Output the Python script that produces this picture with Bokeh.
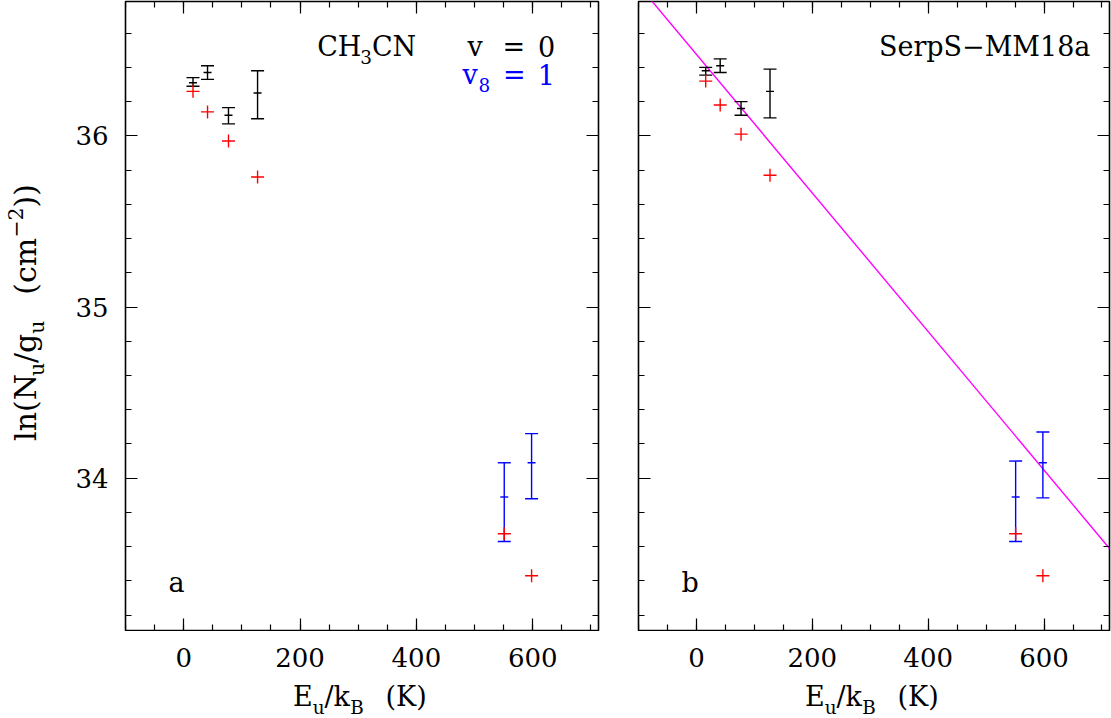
import math
from bokeh.plotting import figure
from bokeh.layouts import row, column
from bokeh.models import Range1d, LinearAxis, Label, FixedTicker, Spacer
from bokeh.embed import file_html
from bokeh.resources import INLINE

# ---------------- data ----------------
eu_v0 = [16, 41, 77, 127]          # E_u/k_B (K) of the v = 0 lines
eu_v8 = [551, 598]                 # E_u/k_B (K) of the v8 = 1 lines

# panel a
a_v0 = [36.31, 36.37, 36.12, 36.25]
a_v0_lo = [36.29, 36.33, 36.07, 36.10]
a_v0_hi = [36.34, 36.41, 36.165, 36.38]
a_v8 = [33.89, 34.09]
a_v8_lo = [33.63, 33.88]
a_v8_hi = [34.09, 34.26]
a_red = [36.26, 36.14, 35.97, 35.76, 33.675, 33.43]

# panel b
b_v0 = [36.38, 36.41, 36.16, 36.26]
b_v0_lo = [36.355, 36.37, 36.12, 36.105]
b_v0_hi = [36.40, 36.45, 36.20, 36.39]
b_v8 = [33.89, 34.09]
b_v8_lo = [33.63, 33.885]
b_v8_hi = [34.10, 34.27]
b_red = [36.32, 36.18, 36.01, 35.77, 33.675, 33.43]

# rotational-diagram fit shown in panel b
fit_trot = 247.0
fit_intercept = 36.476

x_major = [0, 200, 400, 600]
y_major = [34, 35, 36]

# ---------------- layout constants ----------------
X0, X1 = -100.0, 713.0
Y0, Y1 = 33.11, 36.785
FONT = "DejaVu Serif"
REF_TOP, REF_BOT = 1.0, 630.0
REF_X = {"a": (125.0, 598.0), "b": (638.0, 1109.0)}
ROW_H = 631          # height of the panel row (page px)
YLAB_W = 60          # width of the strip holding the y-axis title
BASE_FIX = 0.28      # em, baseline correction of the svg text
PANELS = {"a": dict(left=125 - YLAB_W, right=20, fw=473),
          "b": dict(left=20, right=2, fw=471)}

EM = {" ": .318, "(": .390, ")": .390, "/": .337, "=": .838, "\u2212": .838,
      "0": .636, "1": .636, "2": .636, "3": .636, "8": .636,
      "B": .731, "C": .728, "E": .729, "H": .865, "K": .757, "M": .988,
      "N": .812, "S": .685,
      "a": .596, "b": .640, "c": .562, "e": .592, "g": .640, "k": .617,
      "l": .320, "m": .952, "n": .640, "p": .640, "r": .478, "u": .640,
      "v": .590}


def tw(s, size):
    return sum(EM.get(c, 0.62) for c in s) * size


def to_dx(panel, px):
    l, r = REF_X[panel]
    return X0 + (px - l) / (r - l) * (X1 - X0)


def to_data(panel, px, py):
    y = Y1 - (py - REF_TOP) / (REF_BOT - REF_TOP) * (Y1 - Y0)
    return to_dx(panel, px), y


def rich(p, x, y, segs, size, color="black", align="left", angle=0.0):
    """segs: (text, kind) with kind n / sub / sup, or (px, 'gap')."""
    scale = 0.68
    items = []
    for t, k in segs:
        if k == "gap":
            items.append((None, k, 0, float(t)))
        else:
            s = size * (scale if k != "n" else 1.0)
            items.append((t, k, s, tw(t, s)))
    total = sum(w for *_, w in items)
    adv = {"left": 0.0, "center": -total / 2, "right": -total}[align]
    for t, k, s, w in items:
        if t is not None:
            shift = {"n": 0.0, "sub": -0.30 * size, "sup": 0.42 * size}[k] + BASE_FIX * s
            if angle == 0.0:
                xo, yo = adv, shift
            else:
                xo, yo = -shift, adv
            p.add_layout(Label(x=x, y=y, x_offset=xo, y_offset=yo, text=t,
                               text_font=FONT, text_font_size=f"{s:.1f}px",
                               text_color=color, angle=angle,
                               text_align="left", text_baseline="alphabetic"))
        adv += w


def style(ax, labels, ticks=True):
    ax.axis_line_color = None
    ax.major_tick_in = 12 if ticks else 0
    ax.major_tick_out = 0
    ax.minor_tick_in = 6 if ticks else 0
    ax.minor_tick_out = 0
    ax.major_tick_line_color = "black" if ticks else None
    ax.minor_tick_line_color = "black" if ticks else None
    ax.major_tick_line_width = 1.2
    ax.minor_tick_line_width = 1.2
    if labels:
        ax.major_label_text_font = FONT
        ax.major_label_text_font_size = "26px"
        ax.major_label_text_color = "black"
        ax.major_label_standoff = 17
    else:
        ax.major_label_text_color = None


X_TICKER = dict(ticks=x_major, minor_ticks=list(range(-100, 701, 50)))
Y_TICKER = dict(ticks=y_major, minor_ticks=[round(33.2 + 0.2 * i, 1) for i in range(18)])


def make_panel(name, show_ylabels):
    g = PANELS[name]
    p = figure(x_range=Range1d(X0, X1), y_range=Range1d(Y0, Y1),
               frame_width=g["fw"], frame_height=629,
               min_border_left=g["left"], min_border_right=g["right"],
               min_border_top=1, min_border_bottom=ROW_H - 630,
               output_backend="svg", toolbar_location=None,
               background_fill_color="white", border_fill_color="white")
    p.xgrid.visible = False
    p.ygrid.visible = False
    p.outline_line_color = "black"
    p.outline_line_width = 1.6
    xt = FixedTicker(**X_TICKER)
    yt = FixedTicker(**Y_TICKER)
    p.xaxis.ticker = xt
    p.yaxis.ticker = yt
    for ax in p.xaxis:
        style(ax, False)
        ax.fixed_location = Y0
    for ax in p.yaxis:
        style(ax, show_ylabels)
        if not show_ylabels:
            ax.fixed_location = X0
    top = LinearAxis(ticker=xt, fixed_location=Y1)
    right = LinearAxis(ticker=yt, fixed_location=X1)
    style(top, False)
    style(right, False)
    p.add_layout(top, "above")
    p.add_layout(right, "right")
    return p


def x_strip(name, x_range):
    # strip under a panel: carries the x tick labels and the x-axis title;
    # its y data units are page pixels (growing downwards)
    g = PANELS[name]
    p = figure(x_range=x_range, y_range=Range1d(718, ROW_H),
               frame_width=g["fw"], frame_height=718 - ROW_H,
               min_border_left=g["left"], min_border_right=g["right"],
               min_border_top=0, min_border_bottom=0,
               output_backend="svg", toolbar_location=None,
               background_fill_color="white", border_fill_color="white")
    p.grid.visible = False
    p.yaxis.visible = False
    p.outline_line_color = None
    p.xaxis.ticker = FixedTicker(**X_TICKER)
    for ax in p.xaxis:
        style(ax, True, ticks=False)
        ax.fixed_location = ROW_H - 1
    l, r = REF_X[name]
    rich(p, to_dx(name, (l + r) / 2 - 2), 704.0,
         [("E", "n"), ("u", "sub"), ("/k", "n"), ("B", "sub"), (22, "gap"), ("(K)", "n")],
         27, align="center")
    return p


def text_strip(w, h):
    # a plain canvas whose data units are page pixels (y grows downwards)
    p = figure(x_range=Range1d(0, w), y_range=Range1d(h, 0),
               width=w, height=h, min_border=0,
               output_backend="svg", toolbar_location=None,
               background_fill_color="white", border_fill_color="white")
    p.axis.visible = False
    p.grid.visible = False
    p.outline_line_color = None
    return p


def draw_points(p, v0, v0_lo, v0_hi, v8, v8_lo, v8_hi, red):
    for xs, yc, lo, hi, col in ((eu_v0, v0, v0_lo, v0_hi, "black"),
                                (eu_v8, v8, v8_lo, v8_hi, "#0000ff")):
        p.segment(x0=xs, y0=lo, x1=xs, y1=hi, line_color=col, line_width=1.4)
        p.scatter(xs, lo, marker="dash", size=13, line_color=col, line_width=1.4)
        p.scatter(xs, hi, marker="dash", size=13, line_color=col, line_width=1.4)
        p.scatter(xs, yc, marker="dash", size=8, line_color=col, line_width=1.4)
    p.scatter(eu_v0 + eu_v8, red, marker="cross", size=13,
              line_color="#ff0000", line_width=1.4)


# ---------------- panel a ----------------
pa = make_panel("a", True)
draw_points(pa, a_v0, a_v0_lo, a_v0_hi, a_v8, a_v8_lo, a_v8_hi, a_red)
rich(pa, *to_data("a", 316.7, 54.0), [("CH", "n"), ("3", "sub"), ("CN", "n")], 27)
rich(pa, *to_data("a", 467.0, 54.0), [("v", "n"), (19, "gap"), ("=", "n"), (13, "gap"), ("0", "n")], 27)
rich(pa, *to_data("a", 462.0, 82.0), [("v", "n"), ("8", "sub"), (13, "gap"), ("=", "n"),
                                      (12, "gap"), ("1", "n")], 27, color="#0000ff")
rich(pa, *to_data("a", 168.0, 590.0), [("a", "n")], 27)

# ---------------- panel b ----------------
pb = make_panel("b", False)
fx = [X0, X1]
fy = [fit_intercept - x / fit_trot for x in fx]
pb.line(fx, fy, line_color="#ff00ff", line_width=1.4)
draw_points(pb, b_v0, b_v0_lo, b_v0_hi, b_v8, b_v8_lo, b_v8_hi, b_red)
rich(pb, *to_data("b", 1088.0, 54.0), [("SerpS\u2212MM18a", "n")], 27, align="right")
rich(pb, *to_data("b", 681.0, 590.0), [("b", "n")], 27)

# ---------------- axis titles ----------------
ylab = text_strip(YLAB_W, ROW_H)
rich(ylab, 33.0, 312.0, [("ln(N", "n"), ("u", "sub"), ("/g", "n"), ("u", "sub"), (26, "gap"),
                         ("(cm", "n"), ("\u22122", "sup"), ("))", "n")], 30,
     align="center", angle=math.pi / 2)

xa = x_strip("a", pa.x_range)
xb = x_strip("b", pb.x_range)

layout = column(row(ylab, pa, pb),
                row(Spacer(width=YLAB_W, height=718 - ROW_H), xa, xb))
open("out.html", "w").write(file_html(layout, INLINE))
